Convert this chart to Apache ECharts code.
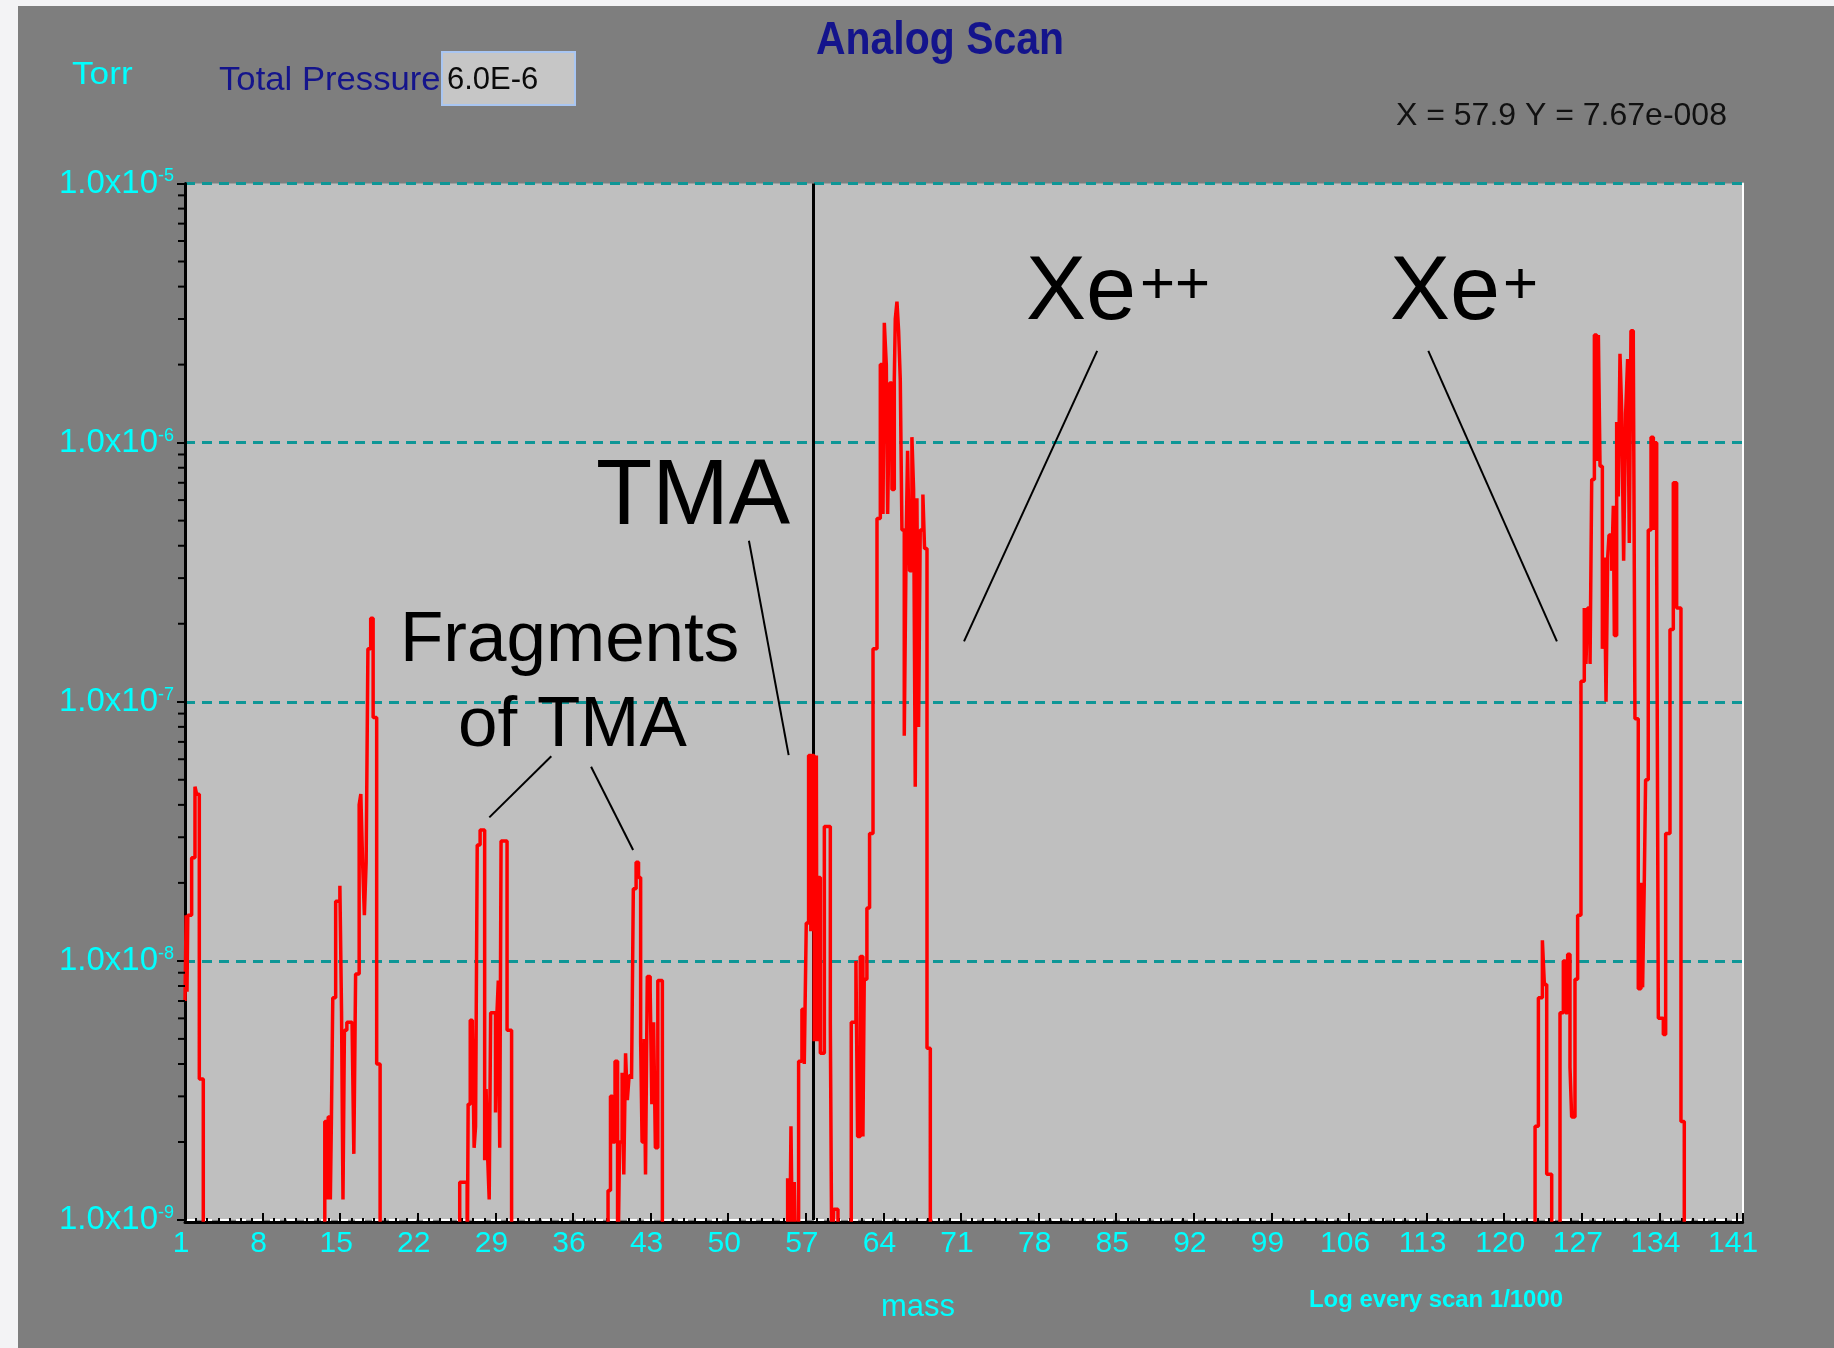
<!DOCTYPE html>
<html>
<head>
<meta charset="utf-8">
<script src="https://cdn.jsdelivr.net/npm/echarts@6/dist/echarts.min.js"></script>
<style>
html,body{margin:0;padding:0;background:#f3f3f5;}
#chart{width:1834px;height:1348px;}
</style>
</head>
<body>
<div id="chart"></div>
<script>
// ---- data (mass in amu, pressure in Torr; 5e-10 = trace below the axis floor)
const peakMass1 = [[1.0,7.0e-9],[1.1,1.5e-8],[1.18,7.6e-9],[1.25,1.5e-8],[1.6,2.5e-8],[1.9,4.7e-8],[2.05,4.4e-8],[2.29,3.5e-9],[2.65,5e-10]];
const peakMass16 = [[13.61,2.4e-9],[13.8,1.2e-9],[13.92,2.5e-9],[14.11,1.2e-9],[14.21,2.5e-9],[14.33,7.2e-9],[14.59,1.7e-8],[14.97,1.95e-8],[15.12,6.4e-9],[15.25,1.2e-9],[15.38,5.4e-9],[15.6,5.8e-9],[16.07,5.9e-9],[16.23,1.8e-9],[16.39,8.9e-9],[16.71,4.0e-8],[16.86,4.4e-8],[17.02,2.4e-8],[17.18,1.5e-8],[17.34,2.4e-8],[17.5,1.6e-7],[17.75,2.1e-7],[17.97,8.7e-8],[18.29,4.0e-9],[18.6,5e-10]];
const peakMass28 = [[25.78,1.4e-9],[26.45,5e-10],[26.54,2.8e-9],[26.73,5.9e-9],[26.92,5.6e-9],[27.08,1.9e-9],[27.21,2.3e-9],[27.36,2.8e-8],[27.62,3.2e-8],[28.03,1.7e-9],[28.16,3.2e-9],[28.31,1.7e-9],[28.44,1.2e-9],[28.57,6.3e-9],[29.01,2.6e-9],[29.14,6.3e-9],[29.26,8.4e-9],[29.39,1.9e-9],[29.51,2.9e-8],[30.05,5.4e-9],[30.46,5e-10]];
const peakMass42 = [[39.16,1.3e-9],[39.38,3.0e-9],[39.57,2.0e-9],[39.79,4.1e-9],[40.02,5e-10],[40.2,2.0e-9],[40.43,3.7e-9],[40.58,1.5e-9],[40.74,4.4e-9],[40.9,2.9e-9],[41.06,3.6e-9],[41.28,3.5e-9],[41.44,1.9e-8],[41.69,2.4e-8],[41.91,2.1e-8],[42.1,4.9e-9],[42.23,2.0e-9],[42.42,5.0e-9],[42.54,1.5e-9],[42.7,8.7e-9],[42.96,7.7e-9],[43.11,2.8e-9],[43.27,5.8e-9],[43.43,1.9e-9],[43.65,8.4e-9],[44.06,5e-10]];
const peakTMA = [[55.36,1.45e-9],[55.51,5e-10],[55.66,2.3e-9],[55.84,5e-10],[55.96,1.4e-9],[56.14,5e-10],[56.35,4.1e-9],[56.65,6.5e-9],[56.86,4.0e-9],[57.04,1.4e-8],[57.25,6.2e-8],[57.45,1.3e-8],[57.5,6.2e-8],[57.75,4.9e-9],[57.8,6.2e-8],[57.9,1.5e-8],[57.95,6.2e-8],[58.0,4.9e-9],[58.1,2.1e-8],[58.31,4.4e-9],[58.67,3.3e-8],[59.21,5.8e-9],[59.36,5e-10],[59.51,1.1e-9],[59.9,5e-10]];
const peakXeDouble = [[61.1,5.8e-9],[61.52,1.0e-8],[61.67,2.1e-9],[61.91,1.04e-8],[62.15,2.1e-9],[62.27,8.5e-9],[62.51,1.6e-8],[62.75,3.1e-8],[63.06,1.6e-7],[63.42,5.1e-7],[63.72,2.0e-6],[63.96,5.3e-7],[64.08,2.9e-6],[64.26,2.0e-6],[64.38,5.3e-7],[64.56,1.7e-6],[64.77,6.6e-7],[64.98,1.75e-6],[65.07,3.0e-6],[65.22,3.5e-6],[65.37,2.7e-6],[65.52,1.75e-6],[65.67,4.6e-7],[65.88,7.4e-8],[66.06,4.5e-7],[66.18,9.3e-7],[66.36,3.2e-7],[66.57,1.05e-6],[66.72,6.6e-7],[66.87,4.7e-8],[67.02,6.1e-7],[67.17,8.0e-8],[67.32,4.6e-7],[67.56,6.3e-7],[67.71,3.9e-7],[67.93,4.6e-9],[68.23,5e-10]];
const peakXeSingle = [[122.78,2.3e-9],[123.08,7.2e-9],[123.44,1.2e-8],[123.62,8.1e-9],[123.83,1.5e-9],[124.28,5e-10],[125.03,6.3e-9],[125.33,1.0e-8],[125.52,6.3e-9],[125.72,1.06e-8],[125.93,3.9e-9],[126.08,2.5e-9],[126.38,8.5e-9],[126.62,1.5e-8],[126.92,1.2e-7],[127.22,2.3e-7],[127.37,1.4e-7],[127.52,2.3e-7],[127.74,1.4e-7],[127.89,7.2e-7],[128.13,2.6e-6],[128.34,8.5e-7],[128.49,2.6e-6],[128.64,8.1e-7],[128.85,1.6e-7],[129.03,3.6e-7],[129.18,1.0e-7],[129.33,3.6e-7],[129.45,4.4e-7],[129.69,3.2e-7],[129.84,5.7e-7],[129.93,1.8e-7],[130.14,1.2e-6],[130.29,6.2e-7],[130.44,2.2e-6],[130.6,1.3e-6],[130.77,3.5e-7],[130.95,1.3e-6],[131.13,2.1e-6],[131.28,4.1e-7],[131.43,2.7e-6],[131.64,2.5e-6],[131.79,8.6e-8],[132.09,7.8e-9],[132.33,2.0e-8],[132.48,7.9e-9],[132.63,2.0e-8],[132.75,5.0e-8],[132.99,4.6e-7],[133.24,1.05e-6],[133.45,4.6e-7],[133.54,1.0e-6],[133.75,3.6e-7],[133.9,6.0e-9],[134.35,5.2e-9],[134.56,3.1e-8],[134.95,1.9e-7],[135.25,7.0e-7],[135.55,2.3e-7],[135.94,2.4e-9],[136.24,5e-10]];

const cursorMass = 57.7;
const xTickStart = 1, xTickStep = 7, xEnd = 141.5;
const yExponents = [-9, -8, -7, -6, -5];
// leader lines of the annotations, in [mass, Torr]
const leaderLines = [
  [[83.28, 2.26e-6], [71.27, 1.71e-7]],
  [[113.15, 2.26e-6], [124.75, 1.71e-7]],
  [[51.87, 4.18e-7], [55.45, 6.22e-8]],
  [[34.04, 6.16e-8], [28.45, 3.58e-8]],
  [[37.63, 5.61e-8], [41.42, 2.68e-8]]
];

const trace = [].concat(peakMass1, peakMass16, peakMass28, peakMass42, peakTMA, peakXeDouble, peakXeSingle);
const yMin = Math.pow(10, yExponents[0]), yMax = Math.pow(10, yExponents[yExponents.length - 1]);
const yMinorTicks = [];
for (let i = 0; i < yExponents.length - 1; i++) for (let k = 2; k <= 9; k++) yMinorTicks.push([xTickStart, k * Math.pow(10, yExponents[i])]);

const FF = '"Liberation Sans", Arial, sans-serif';
const CYAN = '#00ffff';
const NAVY = '#14148c';

function txt(x, y, text, font, fill, align, extra) {
  return Object.assign({
    type: 'text', x: x, y: y, silent: true, z: 50,
    style: { text: text, x: 0, y: 0, font: font, fill: fill,
             textAlign: align || 'left', align: align || 'left',
             textVerticalAlign: 'middle', verticalAlign: 'middle' }
  }, extra || {});
}

const chart = echarts.init(document.getElementById('chart'), null, { renderer: 'canvas' });
chart.setOption({
  animation: false,
  backgroundColor: '#f3f3f5',
  grid: { left: 185, top: 183.5, right: 91.4, bottom: 128, show: true, backgroundColor: '#bfbfbf', borderWidth: 0, outerBoundsMode: 'none' },
  xAxis: {
    type: 'value', min: xTickStart, max: xEnd, interval: xTickStep, offset: 2,
    axisLine: { show: true, lineStyle: { color: '#000', width: 3 } },
    axisTick: { show: true, inside: true, length: 9, lineStyle: { color: '#000', width: 2 } },
    minorTick: { show: true, splitNumber: 7, length: 4, lineStyle: { color: '#000', width: 2 } },
    axisLabel: { showMaxLabel: false, color: CYAN, fontSize: 30, fontFamily: FF, margin: 7, padding: [0, 8, 0, 0] },
    splitLine: { show: false }
  },
  yAxis: [{
    type: 'log', logBase: 10, min: yMin, max: yMax,
    axisLine: { show: true, lineStyle: { color: '#000', width: 3 } },
    axisTick: { show: true, inside: false, length: 8, lineStyle: { color: '#000', width: 2 } },
    axisLabel: {
      margin: 11,
      formatter: function (v) { return '{m|1.0x10}{s|' + Math.round(Math.log10(v)) + '}'; },
      rich: {
        m: { fontSize: 33, fontFamily: FF, color: CYAN, lineHeight: 32 },
        s: { fontSize: 18, fontFamily: FF, color: CYAN, verticalAlign: 'top', lineHeight: 18 }
      }
    },
    splitLine: { show: true, lineStyle: { color: ['#ffffff', '#0e9696', '#0e9696', '#0e9696', '#0e9696'], width: 3, type: [10, 7] } }
  }, {
    type: 'log', logBase: 10, min: yMin, max: yMax, position: 'right',
    axisLine: { show: true, lineStyle: { color: '#ffffff', width: 2 } },
    axisTick: { show: false }, axisLabel: { show: false }, splitLine: { show: false }
  }],
  series: [{
    type: 'line', step: 'end', data: trace, showSymbol: false, symbol: 'none',
    clip: true, silent: true, z: 5,
    lineStyle: { color: '#ff0000', width: 3.5 },
    markLine: {
      silent: true, symbol: ['none', 'none'], animation: false, precision: 6,
      label: { show: false },
      lineStyle: { color: '#000', width: 2, type: 'solid' },
      data: [{ xAxis: cursorMass, lineStyle: { color: '#000', width: 3, type: 'solid' } }].concat(
        leaderLines.map(function (l) { return [{ coord: l[0] }, { coord: l[1] }]; }))
    }
  }, {
    type: 'custom', data: yMinorTicks, encode: { x: 0, y: 1 }, silent: true, clip: false, z: 6,
    renderItem: function (params, api) {
      const p = api.coord([api.value(0), api.value(1)]);
      return { type: 'line', shape: { x1: p[0] - 7, y1: p[1], x2: p[0], y2: p[1] }, style: { stroke: '#000', lineWidth: 2 } };
    }
  }],
  graphic: [
    { type: 'rect', z: -100, silent: true, shape: { x: 18, y: 6, width: 1816, height: 1342 }, style: { fill: '#7e7e7e' } },
    txt(940, 41, 'Analog Scan', 'bold 46px ' + FF, NAVY, 'center', { scaleX: 0.89 }),
    txt(72, 75, 'Torr', 'normal 32px ' + FF, CYAN, 'left', { scaleX: 1.1 }),
    txt(219, 81, 'Total Pressure', 'normal 34px ' + FF, NAVY, 'left', { scaleX: 1.02 }),
    { type: 'rect', z: 40, silent: true, shape: { x: 442, y: 52, width: 133, height: 53 }, style: { fill: '#c6c6c6', stroke: '#a9c6f2', lineWidth: 2 } },
    txt(447, 80, '6.0E-6', 'normal 31px ' + FF, '#0a0a0a', 'left'),
    txt(1396, 116, 'X = 57.9 Y = 7.67e-008', 'normal 32px ' + FF, '#111111', 'left'),
    txt(918, 1307, 'mass', 'normal 31px ' + FF, CYAN, 'center'),
    txt(1436, 1301, 'Log every scan 1/1000', 'bold 23px ' + FF, CYAN, 'center', { scaleX: 1.04 }),
    txt(1026, 294, 'Xe', 'normal 90px ' + FF, '#000', 'left'),
    txt(1140, 286, '++', 'normal 60px ' + FF, '#000', 'left'),
    txt(1390, 294, 'Xe', 'normal 90px ' + FF, '#000', 'left'),
    txt(1503, 286, '+', 'normal 60px ' + FF, '#000', 'left'),
    txt(596, 499, 'TMA', 'normal 92px ' + FF, '#000', 'left'),
    txt(400, 641, 'Fragments', 'normal 71px ' + FF, '#000', 'left'),
    txt(458, 726, 'of TMA', 'normal 71px ' + FF, '#000', 'left')
  ]
});
</script>
</body>
</html>
